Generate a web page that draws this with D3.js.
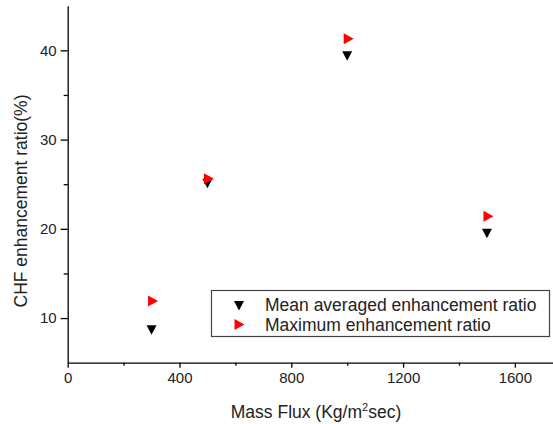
<!DOCTYPE html>
<html>
<head>
<meta charset="utf-8">
<script src="https://cdn.jsdelivr.net/npm/d3@7"></script>
<style>
  body { margin: 0; background: #fff; }
  svg { display: block; font-family: "Liberation Sans", Arial, sans-serif; }
</style>
</head>
<body>
<svg width="553" height="424"></svg>
<script>
// data
var massFlux = [300, 500, 1000, 1500];
var meanRatio = [8.7, 25.1, 39.4, 19.5];
var maxRatio = [11.9, 25.6, 41.3, 21.4];
var xTicks = [0, 400, 800, 1200, 1600];
var yTicks = [10, 20, 30, 40];
var legendLabels = ["Mean averaged enhancement ratio", "Maximum enhancement ratio"];

var svg = d3.select("svg");

var x = d3.scaleLinear().domain([0, 1740]).range([67.7, 554]);
var y = d3.scaleLinear().domain([5, 45]).range([362.7, 5.7]);

// minor ticks first
svg.append("g")
  .attr("transform", "translate(0,362.7)")
  .call(d3.axisBottom(x).tickValues(d3.range(200, 1740, 400)).tickSize(3).tickFormat(""))
  .call(function(g) { g.select(".domain").remove(); });

svg.append("g")
  .attr("transform", "translate(67.7,0)")
  .call(d3.axisLeft(y).tickValues(d3.range(15, 45, 10)).tickSize(4).tickFormat(""))
  .call(function(g) { g.select(".domain").remove(); });

svg.append("g")
  .attr("transform", "translate(0,362.7)")
  .call(d3.axisBottom(x).tickValues(xTicks).tickSize(5).tickSizeOuter(0).tickPadding(5).tickFormat(d3.format("d")));

svg.append("g")
  .attr("transform", "translate(67.7,0)")
  .call(d3.axisLeft(y).tickValues(yTicks).tickSize(7).tickSizeOuter(0).tickPadding(4).tickFormat(d3.format("d")));

svg.selectAll(".tick line, .domain").attr("stroke", "#000").attr("stroke-width", 1.3);
svg.selectAll(".tick text").attr("font-size", 15).attr("fill", "#222").attr("font-family", "Liberation Sans, Arial, sans-serif");

// axis titles
svg.append("text")
  .attr("x", 316).attr("y", 418)
  .attr("text-anchor", "middle")
  .attr("font-size", 17.5).attr("fill", "#222")
  .html("Mass Flux (Kg/m<tspan dy='-7' font-size='11'>2</tspan><tspan dy='7'>sec)</tspan>");

svg.append("text")
  .attr("transform", "translate(26.5,201) rotate(-90)")
  .attr("text-anchor", "middle")
  .attr("font-size", 17.5).attr("fill", "#222")
  .text("CHF enhancement ratio(%)");

function downTri(cx, cy) {
  return "M" + (cx - 5) + "," + (cy - 4.5) + "L" + (cx + 5) + "," + (cy - 4.5) + "L" + cx + "," + (cy + 5) + "Z";
}
function rightTri(cx, cy) {
  return "M" + (cx - 4.5) + "," + (cy - 5.5) + "L" + (cx + 5.5) + "," + cy + "L" + (cx - 4.5) + "," + (cy + 5.5) + "Z";
}

svg.append("g").selectAll("path")
  .data(massFlux)
  .join("path")
  .attr("d", function(d, i) { return downTri(x(d), y(meanRatio[i])); })
  .attr("fill", "#000");

svg.append("g").selectAll("path")
  .data(massFlux)
  .join("path")
  .attr("d", function(d, i) { return rightTri(x(d) + 1, y(maxRatio[i])); })
  .attr("fill", "#ff0000");

// legend
var lg = svg.append("g");
lg.append("rect")
  .attr("x", 211.5).attr("y", 290.5)
  .attr("width", 338).attr("height", 46)
  .attr("fill", "#fff").attr("stroke", "#444").attr("stroke-width", 1.2);

lg.append("path").attr("d", downTri(239, 305.5)).attr("fill", "#000");
lg.append("path").attr("d", rightTri(239, 324.5)).attr("fill", "#ff0000");

lg.selectAll("text.lab")
  .data(legendLabels)
  .join("text")
  .attr("class", "lab")
  .attr("x", 265)
  .attr("y", function(d, i) { return 310.5 + i * 20; })
  .attr("font-size", 17.5).attr("fill", "#222")
  .text(function(d) { return d; });
</script>
</body>
</html>
